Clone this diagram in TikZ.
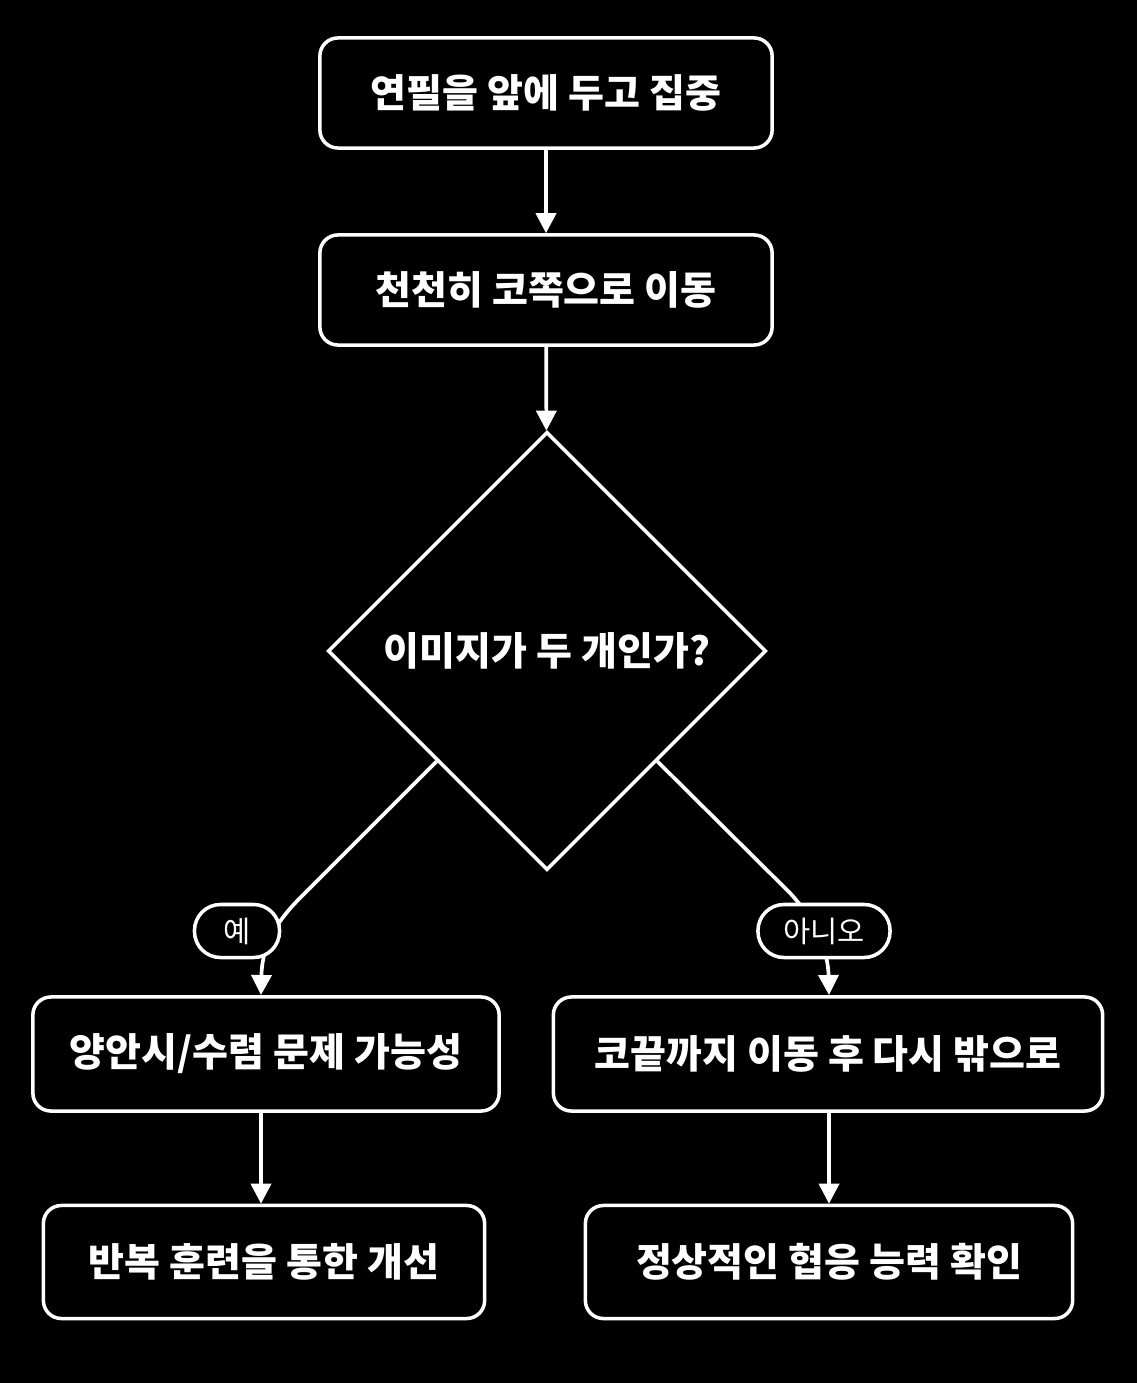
\documentclass[tikz,border=0pt]{standalone}
\usepackage{fontspec}
\newfontfamily\kr{Noto Sans CJK KR}
\usetikzlibrary{shapes.geometric,arrows.meta,calc}
\begin{document}
\begin{tikzpicture}[x=0.01cm,y=-0.01cm,
  box/.style={draw=white,line width=1pt,rounded corners=0.18cm,text=white,
    font=\kr\bfseries\fontsize{11.1}{13}\selectfont,minimum height=1.1cm},
  pill/.style={draw=white,fill=black,line width=1pt,rounded corners=0.26cm,text=white,
    font=\kr\fontsize{8.4}{10}\selectfont,minimum height=0.53cm,inner sep=0pt},
  arr/.style={white,line width=1.05pt,-{Triangle[width=5.7pt,length=5.7pt]}}]
\fill[black] (0,0) rectangle (1137,1383);
\useasboundingbox (0,0) rectangle (1137,1383);
\node[box,minimum width=4.52cm] (a) at (546,93) {연필을 앞에 두고 집중};
\node[box,minimum width=4.52cm] (b) at (546,290) {천천히 코쪽으로 이동};
\node[diamond,draw=white,line width=1pt,text=white,inner sep=0pt,
  minimum width=4.38cm,minimum height=4.38cm,
  font=\kr\bfseries\fontsize{11.1}{13}\selectfont] (q) at (547,651) {이미지가 두 개인가?};
\node[box,minimum width=4.66cm,minimum height=1.14cm] (l1) at (266,1054) {양안시/수렴 문제 가능성};
\node[box,minimum width=5.49cm,minimum height=1.14cm] (r1) at (828,1054) {코끝까지 이동 후 다시 밖으로};
\node[box,minimum width=4.41cm,minimum height=1.13cm] (l2) at (264,1262) {반복 훈련을 통한 개선};
\node[box,minimum width=4.87cm,minimum height=1.13cm] (r2) at (829,1262) {정상적인 협응 능력 확인};
\coordinate (ys) at ($(q.west)!0.5!(q.south)$);
\coordinate (ns) at ($(q.east)!0.5!(q.south)$);
\coordinate (ye) at (261,995);
\coordinate (ne) at (829,995);
\draw[arr] (a) -- (b);
\draw[arr] (b) -- (q);
\draw[arr] (ys) -- (300,898) .. controls (272,926) and (262,950) .. (ye);
\draw[arr] (ns) -- (790,893) .. controls (815,920) and (828,950) .. (ne);
\node[pill,minimum width=0.85cm] (yes) at (237,931) {예};
\node[pill,minimum width=1.32cm] (no) at (824,931) {아니오};
\draw[arr] (l1.south -| ye) -- (l2.north -| ye);
\draw[arr] (r1.south -| ne) -- (r2.north -| ne);
\end{tikzpicture}
\end{document}
